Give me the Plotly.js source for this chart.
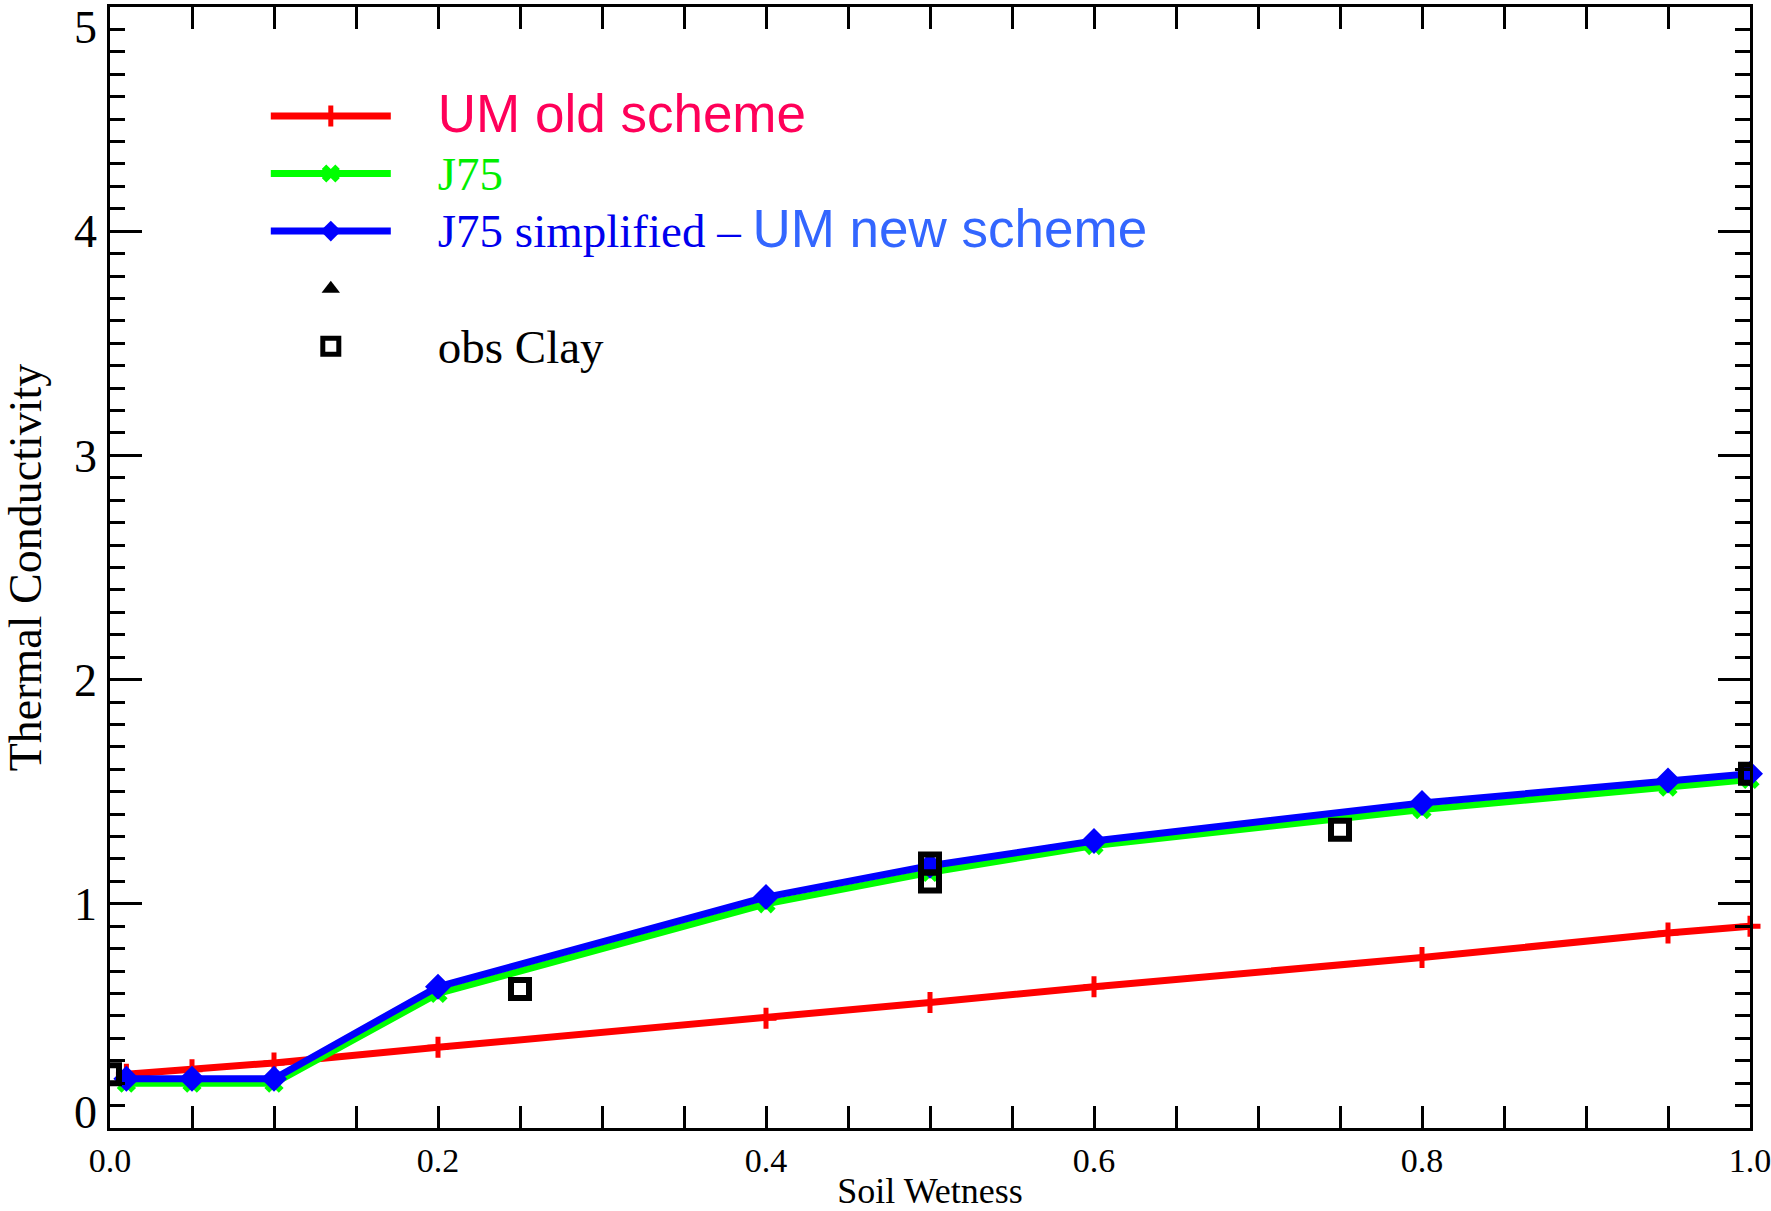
<!DOCTYPE html>
<html>
<head>
<meta charset="utf-8">
<script src="https://cdn.plot.ly/plotly-3.0.1.min.js"></script>
<style>
  html, body { margin: 0; padding: 0; background: #ffffff; }
  #chart { width: 1771px; height: 1211px; }
</style>
</head>
<body>
<div id="chart"></div>
<script>
// Soil wetness values at which the schemes were evaluated
const soilWetness = [0.01, 0.05, 0.1, 0.2, 0.4, 0.5, 0.6, 0.8, 0.95, 1.0];

// Thermal conductivity per scheme
const umOldScheme   = [0.24, 0.26, 0.29, 0.36, 0.49, 0.56, 0.63, 0.76, 0.87, 0.90];
const j75           = [0.20, 0.20, 0.20, 0.60, 1.00, 1.14, 1.26, 1.42, 1.52, 1.555];
const j75Simplified = [0.22, 0.22, 0.22, 0.63, 1.03, 1.17, 1.28, 1.45, 1.55, 1.58];

// Observations (clay)
const obsClayX = [0.0, 0.25, 0.5, 0.5, 0.75, 1.0];
const obsClayY = [0.24, 0.62, 1.18, 1.10, 1.33, 1.58];

// Unlabelled triangle series (no valid points in the plotted range)
const obsTriX = [null];
const obsTriY = [null];

// Tick labels
const xTickVals = [0, 0.2, 0.4, 0.6, 0.8, 1.0];
const xTickText = ["0.0", "0.2", "0.4", "0.6", "0.8", "1.0"];
const yTickVals = [0, 1, 2, 3, 4, 5];
const yTickText = ["0", "1", "2", "3", "4", "5"];

const serif = "Liberation Serif, Times New Roman, serif";
const sans = "Liberation Sans, Arial, sans-serif";
const pad = "\u00a0\u00a0\u00a0\u00a0";

function serifSpan(txt, color) {
  return '<span style="color:' + color + ';font-size:47px">' + txt + '</span>';
}
function sansSpan(txt, color) {
  return '<span style="color:' + color + ';font-family:' + sans + ';font-size:53px">' + txt + '</span>';
}

// edge labels sit slightly inside the frame, as in the original
const yLabelPos = yTickVals.map(function (v) {
  if (v === 0) return v + 0.07;
  if (v === 5) return v - 0.09;
  return v;
});

const traces = [
  {
    x: soilWetness, y: umOldScheme, type: "scatter", mode: "lines+markers",
    name: pad + sansSpan("UM old scheme", "#ff0059"),
    line: { color: "#ff0000", width: 7 },
    marker: { symbol: "cross-thin", size: 15, color: "#ff0000", line: { color: "#ff0000", width: 5 } },
    cliponaxis: false
  },
  {
    x: soilWetness, y: j75, type: "scatter", mode: "lines+markers",
    name: pad + serifSpan("J75", "#00ee00"),
    line: { color: "#00ff00", width: 7 },
    marker: { symbol: "x", size: 17, color: "#00ff00" },
    cliponaxis: false
  },
  {
    x: soilWetness, y: j75Simplified, type: "scatter", mode: "lines+markers",
    name: pad + serifSpan("J75 simplified \u2013 ", "#0000ee") + sansSpan("UM new scheme", "#3366ff"),
    line: { color: "#0000ff", width: 7 },
    marker: { symbol: "diamond", size: 20, color: "#0000ff" },
    cliponaxis: false
  },
  {
    x: obsTriX, y: obsTriY, type: "scatter", mode: "markers", yaxis: "y2",
    name: " ",
    marker: { symbol: "triangle-up", size: 16, color: "#000000" }
  },
  {
    x: obsClayX, y: obsClayY, type: "scatter", mode: "markers",
    name: pad + serifSpan("obs Clay", "#000000"),
    marker: { symbol: "square-open", size: 18, color: "#000000", line: { color: "#000000", width: 6 } },
    cliponaxis: true
  }
];

const layout = {
  width: 1771, height: 1211,
  paper_bgcolor: "#ffffff", plot_bgcolor: "#ffffff",
  margin: { l: 110, r: 21, t: 7, b: 83, pad: 0 },
  font: { family: serif, color: "#000000" },
  showlegend: true,
  legend: {
    x: 0.095, y: 0.933, xanchor: "left", yanchor: "top",
    bgcolor: "rgba(0,0,0,0)", borderwidth: 0,
    font: { family: serif, size: 42, color: "#000000" },
    itemwidth: 120
  },
  xaxis: {
    range: [0, 1],
    tickvals: xTickVals, ticktext: xTickText,
    ticks: "inside", ticklen: 22, tickwidth: 3, tickcolor: "#000000",
    minor: { dtick: 0.05, tick0: 0, ticks: "inside", ticklen: 11, tickwidth: 3, tickcolor: "#000000", showgrid: false },
    showline: true, linecolor: "#000000", linewidth: 3, mirror: "allticks",
    showgrid: false, zeroline: false,
    ticklabeloverflow: "allow",
    tickfont: { family: serif, size: 34, color: "#000000" },
    title: { text: "Soil Wetness", font: { family: serif, size: 36, color: "#000000" }, standoff: 4 },
    automargin: false
  },
  yaxis: {
    range: [0, 5],
    tickvals: yTickVals,
    showticklabels: false,
    ticks: "inside", ticklen: 32, tickwidth: 3, tickcolor: "#000000",
    minor: { dtick: 0.1, tick0: 0, ticks: "inside", ticklen: 15, tickwidth: 3, tickcolor: "#000000", showgrid: false },
    showline: true, linecolor: "#000000", linewidth: 3, mirror: "allticks",
    showgrid: false, zeroline: false,
    automargin: false
  },
  yaxis2: {
    overlaying: "y", anchor: "x", side: "left",
    range: [0, 5],
    tickvals: yLabelPos, ticktext: yTickText,
    ticks: "", showline: false, showgrid: false, zeroline: false,
    ticklabeloverflow: "allow",
    ticklabelstandoff: 12,
    tickfont: { family: serif, size: 46, color: "#000000" },
    title: { text: "Thermal Conductivity", font: { family: serif, size: 46, color: "#000000" }, standoff: 18 },
    automargin: false
  }
};

Plotly.newPlot("chart", traces, layout, { displayModeBar: false, staticPlot: true });
</script>
</body>
</html>
